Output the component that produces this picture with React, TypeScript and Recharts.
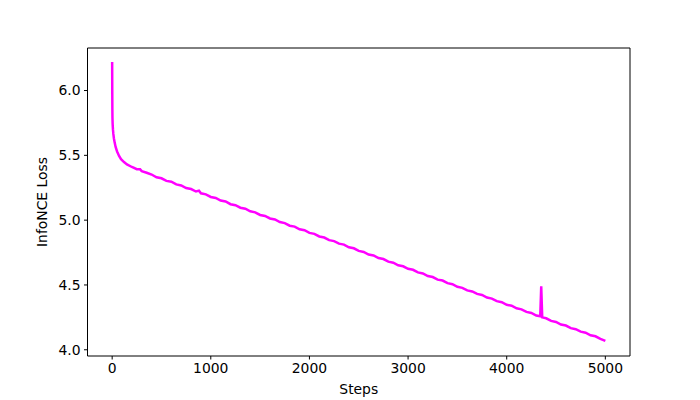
import { LineChart, Line, XAxis, YAxis, Label } from "recharts";

// loss curve
const steps = [
  0, 1, 2, 3, 5, 8, 12, 18, 25, 35, 50, 70, 90, 120, 150, 200, 250, 283, 300, 350,
  400, 450, 500, 550, 600, 650, 700, 750, 800, 850, 880, 900, 950,
  1000, 1050, 1100, 1150, 1200, 1250, 1300, 1350, 1400, 1450, 1500, 1550, 1600, 1650, 1700, 1750, 1800, 1850, 1900, 1950,
  2000, 2050, 2100, 2150, 2200, 2250, 2300, 2350, 2400, 2450, 2500, 2550, 2600, 2650, 2700, 2750, 2800, 2850, 2900, 2950,
  3000, 3050, 3100, 3150, 3200, 3250, 3300, 3350, 3400, 3450, 3500, 3550, 3600, 3650, 3700, 3750, 3800, 3850, 3900, 3950,
  4000, 4050, 4100, 4150, 4200, 4250, 4300, 4340, 4350, 4360, 4400, 4450, 4500, 4550, 4600, 4650, 4700, 4750, 4800, 4850,
  4900, 4950, 5000,
];
const loss = [
  6.22, 6.0, 5.86, 5.79, 5.74, 5.7, 5.665, 5.63, 5.6, 5.565, 5.53, 5.495, 5.47, 5.448, 5.43, 5.41, 5.393, 5.392, 5.378, 5.366,
  5.352, 5.331, 5.323, 5.303, 5.297, 5.276, 5.268, 5.248, 5.24, 5.221, 5.228, 5.207, 5.199,
  5.179, 5.171, 5.151, 5.144, 5.123, 5.115, 5.096, 5.088, 5.068, 5.06, 5.04, 5.032, 5.013, 5.005, 4.985, 4.977, 4.957, 4.95, 4.929, 4.922,
  4.902, 4.894, 4.874, 4.866, 4.846, 4.838, 4.819, 4.811, 4.791, 4.783, 4.763, 4.755, 4.735, 4.728, 4.708, 4.7, 4.68, 4.672, 4.652, 4.644,
  4.625, 4.617, 4.597, 4.589, 4.569, 4.561, 4.541, 4.534, 4.514, 4.506, 4.486, 4.478, 4.458, 4.45, 4.431, 4.423, 4.403, 4.395, 4.375, 4.367,
  4.347, 4.34, 4.32, 4.312, 4.292, 4.284, 4.264, 4.258, 4.49, 4.25, 4.243, 4.223, 4.215, 4.195, 4.187, 4.167, 4.159, 4.14, 4.132, 4.112,
  4.104, 4.084, 4.068,
];
const xTicks = [0, 1000, 2000, 3000, 4000, 5000];
const yTicks = [4.0, 4.5, 5.0, 5.5, 6.0];

const data = steps.map((s, i) => ({ step: s, loss: loss[i] }));

const font = "DejaVu Sans, sans-serif";
const tickStyle = { fill: "#000", fontSize: 13.9, fontFamily: font };

export default function App() {
  return (
    <div style={{ position: "absolute", left: 0, top: 0, width: 700, height: 400, background: "#fff" }}>
      <LineChart width={700} height={400} data={data} margin={{ top: 47, right: 69, bottom: 0, left: 0 }}>
        <XAxis
          dataKey="step"
          type="number"
          domain={[-250, 5250]}
          ticks={xTicks}
          allowDataOverflow
          height={44}
          tickSize={3.5}
          tickMargin={3.5}
          tick={tickStyle}
          stroke="#000"
          tickLine={{ stroke: "#000" }}
          axisLine={{ stroke: "#000" }}
          interval={0}
        >
          <Label value="Steps" position="insideBottom" offset={6} style={{ fill: "#000", fontSize: 13.9, fontFamily: font }} />
        </XAxis>
        <XAxis
          xAxisId="top"
          orientation="top"
          dataKey="step"
          type="number"
          domain={[-250, 5250]}
          allowDataOverflow
          height={1}
          tick={false}
          tickLine={false}
          stroke="#000"
          axisLine={{ stroke: "#000" }}
        />
        <YAxis
          type="number"
          domain={[3.952, 6.328]}
          ticks={yTicks}
          allowDataOverflow
          width={87.5}
          tickSize={3.5}
          tickMargin={3.5}
          tick={tickStyle}
          tickFormatter={(v: number) => v.toFixed(1)}
          tickLine={{ stroke: "#000" }}
          axisLine={{ stroke: "#000" }}
          interval={0}
        >
          <Label value="InfoNCE Loss" angle={-90} position="center" dx={-2} style={{ fill: "#000", fontSize: 13.9, fontFamily: font, textAnchor: "middle" }} />
        </YAxis>
        <YAxis
          yAxisId="right"
          orientation="right"
          type="number"
          domain={[3.952, 6.328]}
          allowDataOverflow
          width={1}
          tick={false}
          tickLine={false}
          stroke="#000"
          axisLine={{ stroke: "#000" }}
        />
        <Line
          type="linear"
          dataKey="loss"
          stroke="#ff00ff"
          strokeWidth={2.5}
          dot={false}
          isAnimationActive={false}
        />
      </LineChart>
    </div>
  );
}
